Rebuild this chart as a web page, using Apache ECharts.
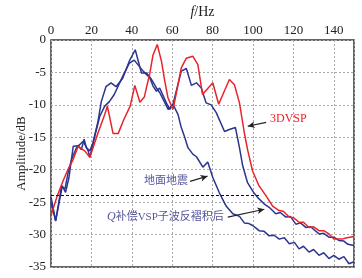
<!DOCTYPE html>
<html><head><meta charset="utf-8">
<script src="https://cdn.jsdelivr.net/npm/echarts@6/dist/echarts.min.js"></script>
<style>html,body{margin:0;padding:0;background:#fff}#c{width:362px;height:278px}</style>
</head><body><div id="c"></div>
<script>
const xTicks = [0, 20, 40, 60, 80, 100, 120, 140];
const yTicks = [0, -5, -10, -15, -20, -25, -30, -35];
const seriesNames = ['3DVSP', '地面地震', 'Q补偿VSP子波反褶积后'];

const red3DVSP = [[0,-27.1],[2.8,-24.3],[6,-21.7],[8.5,-19.9],[11,-18.4],[13.4,-16.4],[16.7,-17.1],[19.2,-18.1],[23.3,-14.3],[26.6,-11.5],[27.9,-10.2],[30.7,-14.4],[33.3,-14.4],[36,-12.3],[39.2,-10.2],[41.5,-7.0],[44,-9.6],[46.2,-8.8],[47.5,-7.0],[48.9,-5.2],[50.5,-2.3],[52.6,-0.7],[54.7,-3.3],[56.3,-6.3],[57.9,-8.9],[60.4,-10.7],[62.1,-8.1],[64.5,-4.3],[67,-2.8],[70.2,-2.5],[72.7,-3.8],[75,-8.4],[80.1,-6.6],[83,-9.9],[88.3,-6.1],[90.8,-6.9],[93.3,-9.7],[95.7,-14.3],[97.3,-16.9],[99.8,-20.2],[103,-22.5],[106.4,-24],[109.7,-25.6],[112.9,-26.3],[115,-26.4],[117.9,-27.3],[120,-27.4],[122.8,-28.1],[125,-28.1],[127.7,-28.9],[130,-28.8],[132.7,-29.4],[135,-29.4],[137.6,-29.9],[140,-30.7],[144,-30.7],[146.5,-30.5],[150,-30.3]];

const blueSurface = [[0,-25],[2.3,-27.9],[5.2,-22.5],[6.9,-23],[8.5,-20.4],[10.2,-18.4],[12.6,-16.6],[14.3,-16.1],[15.9,-15.6],[18.4,-17.1],[19.2,-18.1],[21.7,-14.8],[24.1,-11.8],[26.6,-10.2],[28.9,-9.5],[31.3,-8.4],[35.5,-5.6],[38.7,-3.6],[41.2,-3.1],[45.6,-4.8],[48.9,-5.8],[50.5,-7.1],[52.2,-7.9],[53.8,-7.4],[57.1,-9.7],[58.8,-10.7],[60.4,-9.9],[62.9,-11.5],[64.5,-13.5],[66.2,-15],[67.8,-16.6],[70.2,-17.6],[72,-18],[75.2,-19.6],[77.6,-18.8],[80.1,-21.2],[83.4,-23.6],[86.7,-25.6],[90,-26.8],[93.3,-27.2],[95.7,-28.2],[98,-28.3],[99.8,-28.6],[101.5,-29],[103,-29.4],[105.5,-29.5],[108,-30.2],[110.5,-30.1],[113,-30.7],[115.5,-30.5],[118,-31.4],[120.5,-31.2],[122.8,-32.2],[125,-31.8],[127.7,-32.7],[130,-32.3],[132.7,-33.2],[135,-32.8],[137.6,-33.7],[140,-33.2],[142.5,-33.8],[145,-33.4],[147.5,-34.5],[150,-34.2]];

const blueQcomp = [[0,-24.2],[2.3,-27.9],[5.6,-22.5],[7.2,-23.5],[8.9,-21.2],[11,-16.4],[13.4,-16.3],[15,-16.9],[16.4,-15.3],[17.5,-16.6],[19.2,-17.1],[20.8,-15.8],[23.3,-12.5],[24.9,-9.5],[27.2,-7.2],[29.7,-6.6],[32.2,-7.2],[35.5,-5.9],[38.7,-3.3],[41.7,-1.5],[44.8,-5.1],[47.3,-5.1],[49.8,-6.1],[52.2,-7.4],[53.8,-8.1],[58,-10.7],[60.4,-9.9],[62,-7.9],[64.5,-4.8],[67,-4.4],[69.5,-7],[72,-6.6],[74.4,-7.4],[76.8,-9.7],[79.3,-10],[81.8,-11.2],[85.9,-14.1],[88.3,-13.8],[91.3,-13.5],[93.3,-16.6],[94.9,-19.4],[97.3,-22],[100.5,-23.6],[103,-24.5],[105.6,-25.3],[108,-25.8],[111.3,-26.8],[113.5,-26.6],[116.3,-27.3],[118.5,-27.2],[121.2,-28.4],[123.5,-28.2],[126.1,-28.9],[128.5,-28.8],[132.7,-29.9],[135,-29.8],[137.6,-30.4],[140,-30.4],[142.5,-30.9],[145,-31],[147,-31.5],[150,-31.7]];

const refLevel = -24;
const refEnd = 103;

const chart = echarts.init(document.getElementById('c'));
const serif = '"Liberation Serif","Noto Sans CJK SC",serif';
const RED = '#e8242b', BLUE = '#2b3590', ANN = '#55559c';
const arrowLine = (a, b, col) => [{coord: a, lineStyle: {color: col}}, {coord: b}];
chart.setOption({
  animation: false,
  grid: {left: 51, right: 8, top: 40, bottom: 11, outerBoundsMode: 'none', show: true, borderColor: '#333', borderWidth: 1.5, backgroundColor: 'transparent'},
  xAxis: {
    type: 'value', position: 'top', min: 0, max: 150, interval: 20,
    name: '{i|f}/Hz', nameLocation: 'middle', nameGap: 20,
    nameTextStyle: {fontFamily: serif, fontSize: 14, color: '#222', rich: {i: {fontStyle: 'italic', fontFamily: serif, fontSize: 14, color: '#222'}}},
    axisLine: {show: false}, axisTick: {show: false},
    axisLabel: {fontFamily: serif, fontSize: 13, color: '#222', margin: 3, showMaxLabel: false},
    splitLine: {show: true, lineStyle: {color: '#aaa', type: [2, 2], width: 1}}
  },
  yAxis: {
    type: 'value', min: -35, max: 0, interval: 5,
    name: 'Amplitude/dB', nameLocation: 'middle', nameGap: 23, nameRotate: 90, nameMoveOverlap: false,
    nameTextStyle: {fontFamily: serif, fontSize: 13, color: '#222'},
    axisLine: {show: false}, axisTick: {show: false},
    axisLabel: {fontFamily: serif, fontSize: 13, color: '#222', margin: 5},
    splitLine: {show: true, lineStyle: {color: '#aaa', type: [2, 2], width: 1}}
  },
  series: [
    {name: seriesNames[0], type: 'line', data: red3DVSP, showSymbol: false, lineStyle: {color: RED, width: 1.5}, z: 3,
      markLine: {silent: true, symbol: ['none', 'arrow'], symbolSize: [5, 7], label: {show: false},
        lineStyle: {type: 'solid', width: 1.2, color: '#222'},
        data: [arrowLine([106.5, -12.7], [97.4, -13.3], '#222')]}},
    {name: seriesNames[1], type: 'line', data: blueSurface, showSymbol: false, lineStyle: {color: BLUE, width: 1.5}, z: 2,
      markLine: {silent: true, symbol: ['none', 'arrow'], symbolSize: [5, 7], label: {show: false},
        lineStyle: {type: 'solid', width: 1.2, color: '#222'},
        data: [arrowLine([68.8, -21.8], [77.5, -21.0], '#222')]}},
    {name: seriesNames[2], type: 'line', data: blueQcomp, showSymbol: false, lineStyle: {color: BLUE, width: 1.5}, z: 2,
      markLine: {silent: true, symbol: ['none', 'arrow'], symbolSize: [5, 7], label: {show: false},
        lineStyle: {type: 'solid', width: 1.2, color: '#222'},
        data: [arrowLine([87.5, -27.3], [105.6, -26.1], '#222'),
               [{coord: [0, refLevel], symbol: 'none', lineStyle: {type: [3, 2], color: '#111', width: 1}}, {coord: [refEnd, refLevel], symbol: 'none'}]]}}
  ],
  graphic: [
    {type: 'text', left: 270, top: 113, style: {text: '3DVSP', fill: RED, font: '12px ' + serif}},
    {type: 'text', left: 144, top: 176, style: {text: '地面地震', fill: ANN, font: '11px ' + serif}},
    {type: 'text', left: 107, top: 211, style: {text: '{q|Q}补偿VSP子波反褶积后', fill: ANN, font: '11px ' + serif,
      rich: {q: {fontStyle: 'italic', fontSize: 12, fontFamily: serif, fill: ANN}}}}
  ]
});
</script></body></html>
